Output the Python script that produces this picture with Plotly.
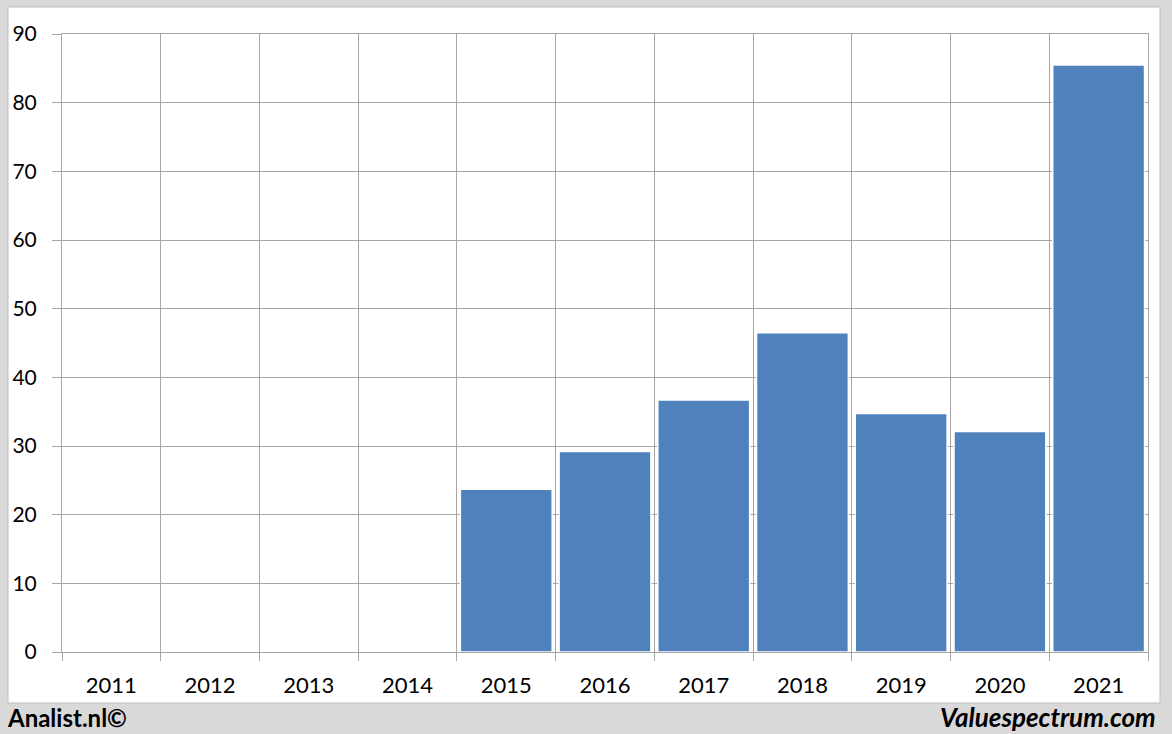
import plotly.graph_objects as go

years = ["2011", "2012", "2013", "2014", "2015", "2016", "2017", "2018", "2019", "2020", "2021"]
values = [None, None, None, None, 23.7, 29.2, 36.7, 46.5, 34.75, 32.1, 85.5]
y_ticks = [0, 10, 20, 30, 40, 50, 60, 70, 80, 90]

W, H = 1172, 734
L, R, T, B = 62, 1148, 34, 652
pw, ph = R - L, B - T

def px(x):
    return (x - L) / pw

def py(y):
    return (B - y) / ph

pos = list(range(len(years)))

fig = go.Figure()
fig.add_trace(go.Bar(
    x=pos, y=values,
    marker=dict(color="#4F81BD", line=dict(color="#FFFFFF", width=1.5)),
    hoverinfo="skip",
))

grid = "#A6A6A6"
fig.update_layout(
    width=W, height=H,
    margin=dict(l=L, r=W - R, t=T, b=H - B),
    paper_bgcolor="#D9D9D9",
    plot_bgcolor="#FFFFFF",
    bargap=0.07,
    showlegend=False,
    font=dict(family="Lato", size=21, color="#000000"),
    xaxis=dict(
        range=[-0.5, len(years) - 0.5],
        tickvals=pos, ticktext=years,
        ticks="", showgrid=False, zeroline=False,
        showline=True, linecolor=grid, linewidth=1, mirror=True,
        ticklabelstandoff=14,
        tickfont=dict(size=22),
        minor=dict(tick0=0.5, dtick=1, ticks="outside", ticklen=8,
                   tickcolor=grid, tickwidth=1, showgrid=True,
                   gridcolor=grid, gridwidth=1),
        fixedrange=True,
    ),
    yaxis=dict(
        range=[0, 90], tickvals=y_ticks,
        ticks="outside", ticklen=9, tickcolor=grid, tickwidth=1,
        showgrid=True, gridcolor=grid, gridwidth=1,
        zeroline=False, showline=True, linecolor=grid, linewidth=1, mirror=True,
        ticklabelstandoff=11,
        fixedrange=True,
    ),
    shapes=[
        dict(type="rect", xref="paper", yref="paper",
             x0=px(8), x1=px(1160), y0=py(703), y1=py(7),
             fillcolor="#FFFFFF", line=dict(color="#BFBFBF", width=1),
             layer="below"),
    ],
    annotations=[
        dict(text="<b>Analist.nl©</b>", xref="paper", yref="paper",
             x=px(5), y=py(717), xanchor="left", yanchor="middle",
             showarrow=False, font=dict(family="Lato", size=24, color="#000000")),
        dict(text="<b><i>Valuespectrum.com</i></b>", xref="paper", yref="paper",
             x=px(1158), y=py(717), xanchor="right", yanchor="middle",
             showarrow=False, font=dict(family="Lato", size=26, color="#000000")),
    ],
)

fig.write_html(
    "out.html",
    config={"displayModeBar": False},
    post_script="document.body.style.margin='0';document.body.style.background='#D9D9D9';document.body.style.overflow='hidden';",
)
